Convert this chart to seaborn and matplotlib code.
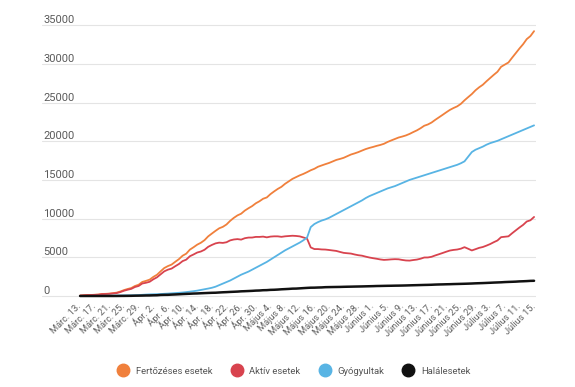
import pandas as pd
import matplotlib
matplotlib.use('Agg')
import matplotlib.pyplot as plt
from matplotlib.lines import Line2D
import seaborn as sns

# daily values, Márc. 13. - Július 15.
fertozeses = [49, 89, 123, 131, 158, 184, 260, 277, 308, 367, 433, 576, 762, 906, 1029, 1292, 1452, 1815, 1952,
              2109, 2460, 2738, 3183, 3613, 3864, 4057, 4417, 4761, 5202, 5467, 5990, 6300, 6633, 6879, 7216,
              7707, 8067, 8418, 8746, 8936, 9242, 9710, 10096, 10417, 10635, 11036, 11339, 11616, 11978,
              12240, 12567, 12732, 13163, 13512, 13837, 14107, 14499, 14811, 15131, 15362, 15588, 15778, 16002,
              16247, 16437, 16704, 16871, 17036, 17191, 17387, 17585, 17712, 17857, 18070, 18283, 18429, 18594,
              18791, 18982, 19133,
              19257, 19398, 19517, 19669, 19907, 20103, 20290, 20479, 20604, 20749, 20945, 21182, 21404, 21679,
              21999, 22165, 22415, 22760, 23080, 23400, 23730, 24045, 24291, 24505, 24826, 25286, 25697, 26097,
              26582, 26970,
              27296, 27746, 28166, 28582, 28973, 29620, 29901, 30175, 30789, 31381, 31981, 32535, 33197, 33585,
              34226]
aktiv = [44, 83, 114, 122, 142, 165, 241, 252, 277, 327, 378, 505, 678, 810, 920, 1161, 1294, 1613, 1707,
         1834, 2155, 2409, 2798, 3184, 3403, 3541, 3845, 4131, 4504, 4697, 5139, 5365, 5616, 5748, 5974,
         6355, 6596, 6797, 6895, 6858, 6944, 7186, 7301, 7350, 7284, 7467, 7548, 7553, 7635,
         7632, 7673, 7577, 7673, 7709, 7708, 7643, 7711, 7748, 7784, 7757, 7703, 7562, 7407,
         6277, 6062, 6060, 6014, 5999, 5944, 5881, 5821, 5691, 5572, 5524, 5479, 5363, 5269,
         5207, 5085, 4974,
         4886, 4810, 4722, 4663, 4691, 4731, 4757, 4740, 4656, 4589, 4571, 4644, 4704, 4816,
         4972, 4978, 5064, 5237, 5392, 5552, 5718, 5872, 5951, 6003, 6111, 6307, 6103, 5885,
         6048, 6219,
         6329, 6509, 6708, 6951, 7173, 7602, 7654, 7708, 8105, 8478, 8847, 9184, 9624, 9783,
         10212]
gyogyultak = [5, 6, 9, 9, 16, 19, 19, 25, 31, 40, 52, 64, 73, 79, 86, 94, 115, 150, 180,
              206, 220, 235, 252, 283, 310, 340, 375, 410, 450, 500, 560, 620, 690, 780, 870,
              960, 1060, 1200, 1400, 1600, 1800, 2000, 2250, 2500, 2750, 2950, 3150, 3400, 3650,
              3900, 4150, 4400, 4700, 5000, 5300, 5600, 5900, 6150, 6400, 6650, 6900, 7200, 7550,
              8900, 9300, 9550, 9750, 9900, 10100, 10350, 10600, 10850, 11100, 11350, 11600, 11850, 12100,
              12350, 12650, 12900,
              13100, 13300, 13500, 13700, 13900, 14050, 14200, 14400, 14600, 14800, 15000, 15150, 15300, 15450,
              15600, 15750, 15900, 16050, 16200, 16350, 16500, 16650, 16800, 16950, 17150, 17400, 18000, 18600,
              18900, 19100,
              19300, 19550, 19750, 19900, 20050, 20250, 20450, 20650, 20850, 21050, 21250, 21450, 21650, 21850,
              22050]
halalesetek = [0, 0, 0, 0, 0, 0, 0, 0, 0, 0, 3, 7, 11, 17, 23, 37, 43, 52, 65,
               69, 85, 94, 133, 146, 151, 176, 197, 220, 248, 270, 291, 315, 327, 351, 372,
               392, 411, 421, 451, 478, 498, 524, 545, 567, 601, 619, 641, 663, 693,
               708, 744, 755, 790, 803, 829, 864, 888, 913, 947, 955, 985, 1016, 1045,
               1070, 1075, 1094, 1107, 1137, 1147, 1156, 1164, 1171, 1185, 1196, 1204, 1216, 1225,
               1234, 1247, 1259,
               1271, 1288, 1295, 1306, 1316, 1322, 1333, 1339, 1348, 1360, 1374, 1388, 1400, 1413,
               1427, 1437, 1451, 1473, 1488, 1498, 1512, 1523, 1540, 1552, 1565, 1579, 1594, 1612,
               1634, 1651,
               1667, 1687, 1708, 1731, 1750, 1768, 1797, 1817, 1834, 1853, 1884, 1901, 1923, 1952,
               1964]

tick_labels = ["Márc. 13.", "Márc. 17.", "Márc. 21.", "Márc. 25.", "Márc. 29.", "Ápr. 2.", "Ápr. 6.",
               "Ápr. 10.", "Ápr. 14.", "Ápr. 18.", "Ápr. 22.", "Ápr. 26.", "Ápr. 30.", "Május 4.",
               "Május 8.", "Május 12.", "Május 16.", "Május 20.", "Május 24.", "Május 28.", "Június 1.",
               "Június 5.", "Június 9.", "Június 13.", "Június 17.", "Június 21.", "Június 25.",
               "Június 29.", "Július 3.", "Július 7.", "Július 11.", "Július 15."]

series_names = ['Fertőzéses esetek', 'Aktív esetek', 'Gyógyultak', 'Halálesetek']
colors = ['#F0803C', '#D8434E', '#58B4E4', '#111111']

dates = pd.date_range('2020-03-13', periods=len(fertozeses), freq='D')
df = pd.DataFrame({'date': dates,
                   'Fertőzéses esetek': fertozeses,
                   'Aktív esetek': aktiv,
                   'Gyógyultak': gyogyultak,
                   'Halálesetek': halalesetek})
df_long = df.melt(id_vars='date', var_name='series', value_name='value')

sns.set_style('white')
plt.rcParams['font.family'] = ['Roboto', 'DejaVu Sans']

fig = plt.figure(figsize=(5.75, 3.87), dpi=100)
ax = fig.add_axes([0.073, 0.23, 0.859, 0.718])

sns.lineplot(data=df_long, x='date', y='value', hue='series', hue_order=series_names,
             palette=colors, linewidth=1.3, legend=False, ax=ax)
ax.lines[3].set_linewidth(1.8)

ax.set_xlim(dates[0] - pd.Timedelta(days=10.4), dates[-1] + pd.Timedelta(days=0.5))
ax.set_ylim(-260, 35650)

ax.set_yticks(range(0, 35001, 5000))
ax.set_yticklabels([str(v) for v in range(0, 35001, 5000)], fontsize=8, color='#5a5a5a')
for lbl in ax.get_yticklabels():
    lbl.set_ha('left')
    lbl.set_va('bottom')
ax.tick_params(axis='y', length=0, pad=-1)

ax.set_xticks(dates[::4])
ax.set_xticklabels(tick_labels, rotation=45, ha='right', va='center', rotation_mode='anchor',
                   fontsize=6.7, color='#5f5f5f')
ax.tick_params(axis='x', length=0, pad=5)

ax.yaxis.grid(True, color='#e4e4e4', linewidth=0.8)
ax.xaxis.grid(False)
ax.set_axisbelow(True)
sns.despine(ax=ax, left=True, bottom=True)
ax.set_xlabel('')
ax.set_ylabel('')

handles = [Line2D([], [], marker='o', linestyle='', markersize=9, markerfacecolor=c, markeredgecolor=c)
           for c in colors]
fig.legend(handles, series_names, loc='center', bbox_to_anchor=(0.508, 1 - 371 / 387), ncol=4,
           frameon=False, fontsize=6.8, handletextpad=0.3, columnspacing=1.6, labelcolor='#555555')

fig.savefig('out.png', dpi=100)
